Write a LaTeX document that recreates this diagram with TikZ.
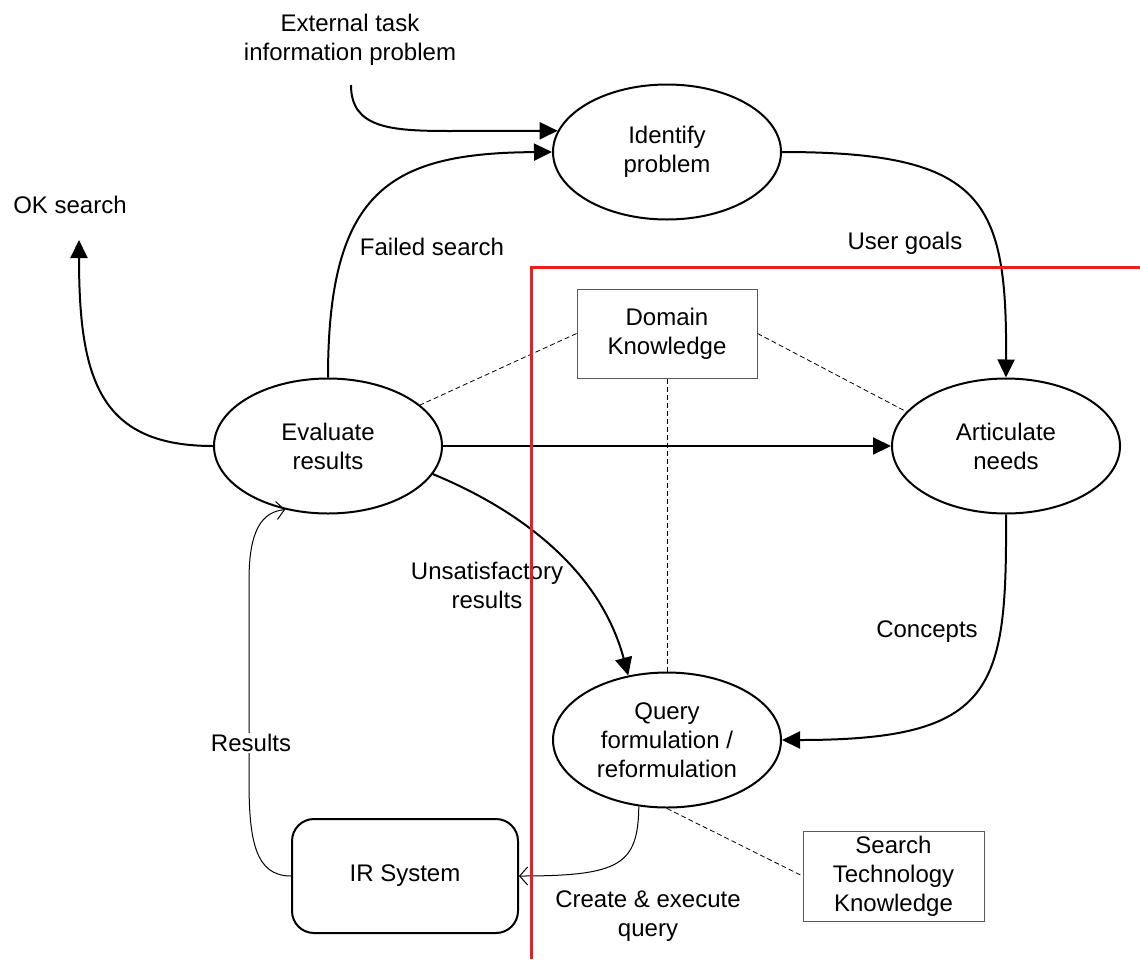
\documentclass[tikz,border=0pt]{standalone}
\usepackage{fontspec}
\setmainfont{Liberation Sans}
\usetikzlibrary{arrows.meta,shapes.geometric}
\definecolor{redline}{RGB}{237,28,36}
\definecolor{boxgray}{RGB}{90,90,90}
\begin{document}
\begin{tikzpicture}[x=1pt,y=-1pt,
  every node/.style={font=\fontsize{24}{29}\selectfont, align=center},
  proc/.style={draw, line width=2pt, ellipse, minimum width=228pt, minimum height=135pt, inner sep=0pt},
  kbox/.style={draw=boxgray, line width=1pt, rectangle, inner sep=0pt},
  irbox/.style={draw, line width=2pt, rectangle, rounded corners=22pt, minimum width=226pt, minimum height=114pt, inner sep=0pt},
  lbl/.style={inner sep=1pt},
  flow/.style={line width=2pt, -{Triangle[length=18pt,width=17pt]}},
  thinflow/.style={line width=1pt, -{Straight Barb[length=8pt,width=18pt]}},
  dep/.style={line width=0.8pt, dash pattern=on 5pt off 3pt},
  boundary/.style={draw=redline, line width=3pt}
]
\useasboundingbox (0,0) rectangle (1140,959);

% process nodes
\node[proc] (idp) at (667,152) {Identify\\problem};
\node[proc] (ev)  at (328,446) {Evaluate\\results};
\node[proc] (art) at (1006,446) {Articulate\\needs};
\node[proc] (qf)  at (667,740) {Query\\formulation /\\reformulation};
\node[kbox, minimum width=180pt, minimum height=89pt] (dk) at (667,333.5) {Domain\\Knowledge};
\node[kbox, minimum width=181pt, minimum height=90pt] (stk) at (893.5,876) {Search\\Technology\\Knowledge};
\node[irbox] (ir) at (405,876) {IR System};

% free ends
\coordinate (ext) at (351,85);
\coordinate (ok) at (79,240);

% text labels
\node (lext) at (350,40) {External task\\information problem};
\node (lok) at (70,205) {OK search};
\node (lfail) at (432,247) {Failed search};
\node (lgoal) at (905,243) {User goals};
\node (lconc) at (927,632) {Concepts};
\node (lunsat) at (487,585) {Unsatisfactory\\results};
\node (lcreate) at (648,916) {Create \& execute\\query};

% dependency lines
\draw[dep] (dk.west) -- (ev.24);
\draw[dep] (dk.east) -- (art.161);
\draw[dep] (dk.south) -- (qf.north);
\draw[dep] (qf.south) -- (stk.west);

% thick flows
\draw[flow] (ext) .. controls (351,128) and (390,131) .. (450,131) -- (idp.169);
\draw[flow] (ev.north) .. controls (328,190) and (390,153) .. (idp.west);
\draw[flow] (ev.west) .. controls (100,446) and (79,380) .. (ok);
\draw[flow] (idp.east) .. controls (985,152) and (1007,200) .. (art.north);
\draw[flow] (art.south) .. controls (1007,690) and (995,740) .. (qf.east);
\draw[flow] (ev.-15) .. controls (520,510) and (600,570) .. (qf.121);
\draw[flow] (ev.east) -- (art.west);

% thin flows
\draw[thinflow] (qf.247) .. controls (638,865) and (620,876) .. (ir.east);
\draw[thinflow] (ir.west) .. controls (255,876) and (249,840) .. (249,780) -- (249,580) .. controls (249,530) and (262,512) .. (ev.236);
\node[lbl, fill=white] (lres) at (251,743) {Results};

% boundary
\draw[boundary] (531,959) -- (531,267) -- (1140,267);
\end{tikzpicture}
\end{document}
